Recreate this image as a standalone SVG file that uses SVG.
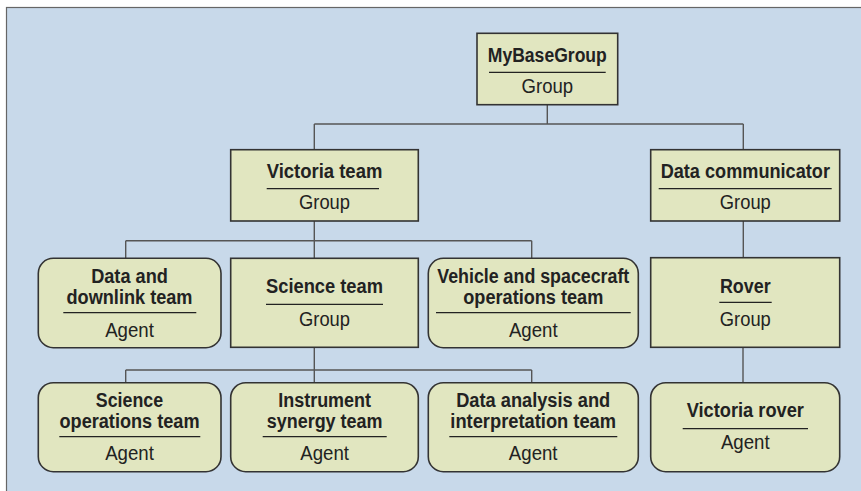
<svg xmlns="http://www.w3.org/2000/svg" width="861" height="491" viewBox="0 0 861 491">
<style>
.bx{fill:#e1e6c0;stroke:#333;stroke-width:1.6}
.dv{stroke:#222;stroke-width:1.2}
.cn{fill:none;stroke:#555;stroke-width:1.4}
.t{font-family:"Liberation Sans",Arial,sans-serif;font-size:20px;text-anchor:middle;fill:#222}
.b{font-weight:bold}
</style>
<rect x="0" y="0" width="861" height="491" fill="#fff"/>
<rect x="6.5" y="7.5" width="860" height="490" fill="#c8d9ea" stroke="#666" stroke-width="1.2"/>
<g id="connectors">
<path class="cn" d="M547.3 104.7V124M314.3 124H743.3M314.3 124V149.7M743.3 124V149.7"/>
<path class="cn" d="M314.3 221V240.7M125.7 240.7H531.7M125.7 240.7V258.3M314.3 240.7V258.3M531.7 240.7V258.3"/>
<path class="cn" d="M743.3 221V257.7M743 347.3V382.7"/>
<path class="cn" d="M314.3 347.3V370M125.7 370H531.7M125.7 370V382.7M314.3 370V382.7M531.7 370V382.7"/>
</g>
<g id="mybasegroup">
<rect class="bx" x="477" y="33.3" width="140.7" height="71.4"/>
<line class="dv" x1="489" y1="72.3" x2="605.7" y2="72.3"/>
<text class="t b" x="547.3" y="62" textLength="119" lengthAdjust="spacingAndGlyphs">MyBaseGroup</text>
<text class="t" x="547.3" y="93" textLength="51.5" lengthAdjust="spacingAndGlyphs">Group</text>
</g>
<g id="victoria-team">
<rect class="bx" x="230.7" y="149.7" width="187.6" height="71.3"/>
<line class="dv" x1="266.7" y1="188.7" x2="379" y2="188.7"/>
<text class="t b" x="324.5" y="177.7" textLength="115.7" lengthAdjust="spacingAndGlyphs">Victoria team</text>
<text class="t" x="324.5" y="209" textLength="51" lengthAdjust="spacingAndGlyphs">Group</text>
</g>
<g id="data-communicator">
<rect class="bx" x="650.7" y="149.7" width="189" height="71.3"/>
<line class="dv" x1="658.7" y1="188.7" x2="831.7" y2="188.7"/>
<text class="t b" x="745.3" y="177.7" textLength="169.3" lengthAdjust="spacingAndGlyphs">Data communicator</text>
<text class="t" x="745.3" y="209" textLength="51" lengthAdjust="spacingAndGlyphs">Group</text>
</g>
<g id="data-downlink">
<rect class="bx" x="38.3" y="258.3" width="182.7" height="89.4" rx="15"/>
<line class="dv" x1="63.3" y1="312.7" x2="196.3" y2="312.7"/>
<text class="t b" x="129.5" y="283.3" textLength="76.7" lengthAdjust="spacingAndGlyphs">Data and</text>
<text class="t b" x="129.5" y="304.3" textLength="126" lengthAdjust="spacingAndGlyphs">downlink team</text>
<text class="t" x="129.5" y="336.7" textLength="48.7" lengthAdjust="spacingAndGlyphs">Agent</text>
</g>
<g id="science-team">
<rect class="bx" x="230.7" y="258.3" width="187.6" height="89"/>
<line class="dv" x1="266" y1="304.3" x2="383" y2="304.3"/>
<text class="t b" x="324.5" y="293.3" textLength="117" lengthAdjust="spacingAndGlyphs">Science team</text>
<text class="t" x="324.5" y="326" textLength="51" lengthAdjust="spacingAndGlyphs">Group</text>
</g>
<g id="vehicle-spacecraft">
<rect class="bx" x="428.3" y="258.3" width="210" height="89.4" rx="15"/>
<line class="dv" x1="436" y1="312.7" x2="630.7" y2="312.7"/>
<text class="t b" x="533.3" y="283.3" textLength="192" lengthAdjust="spacingAndGlyphs">Vehicle and spacecraft</text>
<text class="t b" x="533.3" y="304.3" textLength="140" lengthAdjust="spacingAndGlyphs">operations team</text>
<text class="t" x="533.3" y="336.7" textLength="48.7" lengthAdjust="spacingAndGlyphs">Agent</text>
</g>
<g id="rover">
<rect class="bx" x="650.7" y="257.7" width="189" height="89.6"/>
<line class="dv" x1="719.3" y1="302.3" x2="771.7" y2="302.3"/>
<text class="t b" x="745.3" y="293.3" textLength="50.7" lengthAdjust="spacingAndGlyphs">Rover</text>
<text class="t" x="745.3" y="326" textLength="51" lengthAdjust="spacingAndGlyphs">Group</text>
</g>
<g id="science-operations">
<rect class="bx" x="38.3" y="382.7" width="182.7" height="89" rx="15"/>
<line class="dv" x1="59.3" y1="436.7" x2="200.3" y2="436.7"/>
<text class="t b" x="129.5" y="406.7" textLength="67.3" lengthAdjust="spacingAndGlyphs">Science</text>
<text class="t b" x="129.5" y="428.3" textLength="140" lengthAdjust="spacingAndGlyphs">operations team</text>
<text class="t" x="129.5" y="460" textLength="48.7" lengthAdjust="spacingAndGlyphs">Agent</text>
</g>
<g id="instrument-synergy">
<rect class="bx" x="230.7" y="382.7" width="187.6" height="89" rx="15"/>
<line class="dv" x1="262.7" y1="436.7" x2="386.7" y2="436.7"/>
<text class="t b" x="324.6" y="406.7" textLength="92.7" lengthAdjust="spacingAndGlyphs">Instrument</text>
<text class="t b" x="324.6" y="428.3" textLength="115.7" lengthAdjust="spacingAndGlyphs">synergy team</text>
<text class="t" x="324.6" y="460" textLength="48.7" lengthAdjust="spacingAndGlyphs">Agent</text>
</g>
<g id="data-analysis">
<rect class="bx" x="428.3" y="382.7" width="210" height="89" rx="15"/>
<line class="dv" x1="449.3" y1="436.7" x2="617.3" y2="436.7"/>
<text class="t b" x="533.2" y="406.7" textLength="154" lengthAdjust="spacingAndGlyphs">Data analysis and</text>
<text class="t b" x="533.2" y="428.3" textLength="165.7" lengthAdjust="spacingAndGlyphs">interpretation team</text>
<text class="t" x="533.2" y="460" textLength="48.7" lengthAdjust="spacingAndGlyphs">Agent</text>
</g>
<g id="victoria-rover">
<rect class="bx" x="650.7" y="382.7" width="189" height="89" rx="15"/>
<line class="dv" x1="682.7" y1="428.7" x2="808" y2="428.7"/>
<text class="t b" x="745.3" y="416.7" textLength="117.3" lengthAdjust="spacingAndGlyphs">Victoria rover</text>
<text class="t" x="745.3" y="449.3" textLength="48.7" lengthAdjust="spacingAndGlyphs">Agent</text>
</g>
</svg>
